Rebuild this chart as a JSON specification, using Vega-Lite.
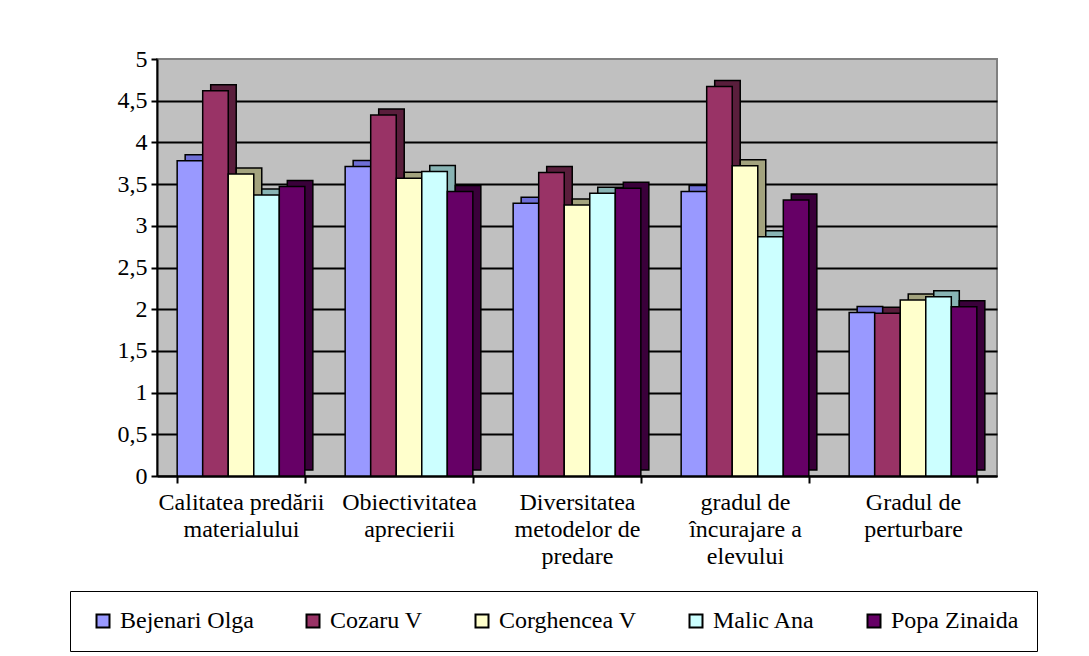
{
  "$schema": "https://vega.github.io/schema/vega-lite/v6.json",
  "width": 840,
  "height": 417,
  "autosize": {"type": "none"},
  "padding": {"left": 157, "top": 59, "right": 92, "bottom": 180},
  "background": "white",
  "config": {
    "font": "'Liberation Serif', 'Times New Roman', serif",
    "view": {"fill": "#C0C0C0", "stroke": "#808080", "strokeWidth": 2}
  },
  "data": {
    "values": [
      {"category": "Calitatea predării materialului", "teacher": "Bejenari Olga", "value": 3.78},
      {"category": "Calitatea predării materialului", "teacher": "Cozaru V", "value": 4.62},
      {"category": "Calitatea predării materialului", "teacher": "Corghencea V", "value": 3.62},
      {"category": "Calitatea predării materialului", "teacher": "Malic Ana", "value": 3.37},
      {"category": "Calitatea predării materialului", "teacher": "Popa Zinaida", "value": 3.47},
      {"category": "Obiectivitatea aprecierii", "teacher": "Bejenari Olga", "value": 3.71},
      {"category": "Obiectivitatea aprecierii", "teacher": "Cozaru V", "value": 4.33},
      {"category": "Obiectivitatea aprecierii", "teacher": "Corghencea V", "value": 3.57},
      {"category": "Obiectivitatea aprecierii", "teacher": "Malic Ana", "value": 3.65},
      {"category": "Obiectivitatea aprecierii", "teacher": "Popa Zinaida", "value": 3.41},
      {"category": "Diversitatea metodelor de predare", "teacher": "Bejenari Olga", "value": 3.27},
      {"category": "Diversitatea metodelor de predare", "teacher": "Cozaru V", "value": 3.64},
      {"category": "Diversitatea metodelor de predare", "teacher": "Corghencea V", "value": 3.25},
      {"category": "Diversitatea metodelor de predare", "teacher": "Malic Ana", "value": 3.39},
      {"category": "Diversitatea metodelor de predare", "teacher": "Popa Zinaida", "value": 3.45},
      {"category": "gradul de încurajare a elevului", "teacher": "Bejenari Olga", "value": 3.41},
      {"category": "gradul de încurajare a elevului", "teacher": "Cozaru V", "value": 4.67},
      {"category": "gradul de încurajare a elevului", "teacher": "Corghencea V", "value": 3.72},
      {"category": "gradul de încurajare a elevului", "teacher": "Malic Ana", "value": 2.87},
      {"category": "gradul de încurajare a elevului", "teacher": "Popa Zinaida", "value": 3.31},
      {"category": "Gradul de perturbare", "teacher": "Bejenari Olga", "value": 1.96},
      {"category": "Gradul de perturbare", "teacher": "Cozaru V", "value": 1.95},
      {"category": "Gradul de perturbare", "teacher": "Corghencea V", "value": 2.11},
      {"category": "Gradul de perturbare", "teacher": "Malic Ana", "value": 2.15},
      {"category": "Gradul de perturbare", "teacher": "Popa Zinaida", "value": 2.03}
    ]
  },
  "encoding": {
    "x": {
      "field": "category",
      "type": "nominal",
      "sort": ["Calitatea predării materialului", "Obiectivitatea aprecierii", "Diversitatea metodelor de predare", "gradul de încurajare a elevului", "Gradul de perturbare"],
      "scale": {"paddingInner": 0.24, "paddingOuter": 0.12},
      "axis": {
        "title": null,
        "labelAngle": 0,
        "labelExpr": "datum.value == 'Calitatea predării materialului' ? ['Calitatea predării', 'materialului'] : datum.value == 'Obiectivitatea aprecierii' ? ['Obiectivitatea', 'aprecierii'] : datum.value == 'Diversitatea metodelor de predare' ? ['Diversitatea', 'metodelor de', 'predare'] : datum.value == 'gradul de încurajare a elevului' ? ['gradul de', 'încurajare a', 'elevului'] : datum.value == 'Gradul de perturbare' ? ['Gradul de', 'perturbare'] : ''",
        "labelFont": "'Liberation Serif', 'Times New Roman', serif",
        "labelFontSize": 24,
        "labelLineHeight": 27,
        "labelColor": "black",
        "labelPadding": 7,
        "labelBaseline": "top",
        "labelLimit": 0,
        "tickBand": "extent",
        "tickSize": 7,
        "tickColor": "black",
        "tickWidth": 2,
        "domainColor": "black",
        "domainWidth": 2,
        "grid": false
      }
    },
    "y": {
      "field": "value",
      "type": "quantitative",
      "scale": {"domain": [0, 5], "nice": false},
      "axis": {
        "title": null,
        "values": [0, 0.5, 1, 1.5, 2, 2.5, 3, 3.5, 4, 4.5, 5],
        "format": "~g",
        "labelExpr": "replace(datum.label, '.', ',')",
        "labelFont": "'Liberation Serif', 'Times New Roman', serif",
        "labelFontSize": 24,
        "labelColor": "black",
        "labelPadding": 4,
        "tickSize": 6,
        "tickColor": "black",
        "tickWidth": 2,
        "domainColor": "black",
        "domainWidth": 2,
        "grid": true,
        "gridColor": "black",
        "gridWidth": 2,
        "gridOpacity": {"condition": {"test": "datum.value == 5", "value": 0}, "value": 1}
      }
    }
  },
  "layer": [
    {
      "mark": {"type": "bar", "yOffset": -6, "stroke": "black", "strokeWidth": 1.5},
      "encoding": {
        "xOffset": {
          "field": "teacher",
          "type": "nominal",
          "sort": ["Bejenari Olga", "Cozaru V", "Corghencea V", "Malic Ana", "Popa Zinaida"],
          "scale": {"paddingInner": 0, "paddingOuter": 0, "range": [8, 135.68]}
        },
        "color": {
          "field": "teacher",
          "type": "nominal",
          "sort": ["Bejenari Olga", "Cozaru V", "Corghencea V", "Malic Ana", "Popa Zinaida"],
          "scale": {"range": ["#6E6ED6", "#5A1E3C", "#A3A37E", "#88B4B4", "#3A003A"]},
          "legend": null
        }
      }
    },
    {
      "mark": {"type": "bar", "stroke": "black", "strokeWidth": 1.5},
      "encoding": {
        "xOffset": {
          "field": "teacher",
          "type": "nominal",
          "sort": ["Bejenari Olga", "Cozaru V", "Corghencea V", "Malic Ana", "Popa Zinaida"],
          "scale": {"paddingInner": 0, "paddingOuter": 0}
        },
        "color": {
          "field": "teacher",
          "type": "nominal",
          "sort": ["Bejenari Olga", "Cozaru V", "Corghencea V", "Malic Ana", "Popa Zinaida"],
          "scale": {"range": ["#9999FF", "#993366", "#FFFFCC", "#CCFFFF", "#660066"]},
          "legend": {
            "title": null,
            "orient": "none",
            "legendX": -87,
            "legendY": 532,
            "direction": "horizontal",
            "columns": 5,
            "strokeColor": "black",
            "fillColor": "white",
            "padding": 18,
            "symbolType": "square",
            "symbolSize": 169,
            "symbolStrokeColor": "black",
            "symbolStrokeWidth": 2,
            "symbolOffset": 3,
            "labelFont": "'Liberation Serif', 'Times New Roman', serif",
            "labelFontSize": 24,
            "labelColor": "black",
            "labelOffset": 5,
            "labelLimit": 0,
            "columnPadding": 44
          }
        }
      }
    }
  ],
  "resolve": {"scale": {"color": "independent", "xOffset": "independent"}}
}
